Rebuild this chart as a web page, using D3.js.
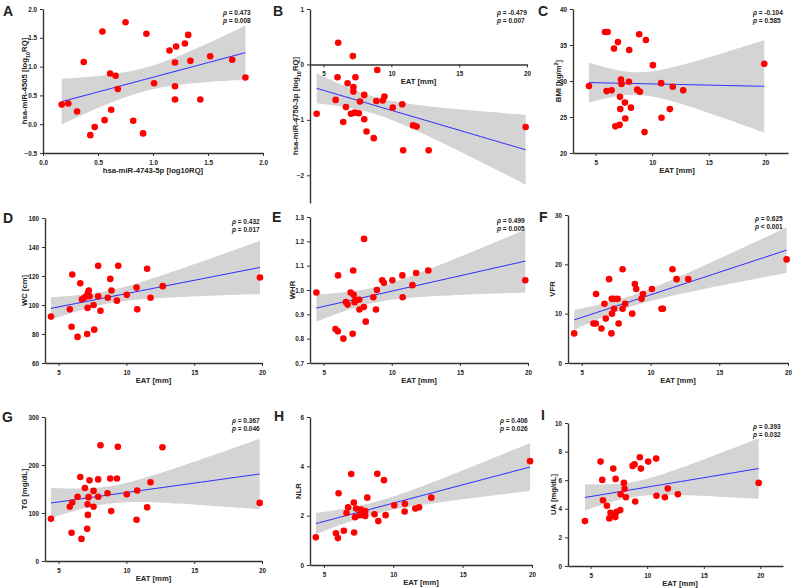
<!DOCTYPE html>
<html lang="en">
<head>
<meta charset="UTF-8">
<title>EAT correlations</title>
<script src="https://cdn.jsdelivr.net/npm/d3@7"></script>
<style>
    body { margin: 0; background: #fff; }
    svg text { font-family: "Liberation Sans", Arial, sans-serif; font-weight: bold; fill: #222; }
</style>
</head>
<body>
<svg id="chart" width="794" height="588" viewBox="0 0 794 588"></svg>
<script>
// values, one x/y pair of arrays per panel
const aX = [0.17, 0.23, 0.31, 0.37, 0.43, 0.47, 0.54, 0.56, 0.61, 0.62, 0.66, 0.68, 0.75, 0.82, 0.91, 0.94, 1.01, 1.15, 1.2, 1.2, 1.2, 1.21, 1.29, 1.32, 1.34, 1.43, 1.52, 1.72, 1.84];
const aY = [0.34, 0.36, 0.22, 1.08, -0.19, -0.05, 1.61, 0.07, 0.88, 0.25, 0.84, 0.61, 1.77, 0.06, -0.16, 1.57, 0.71, 1.28, 1.07, 0.66, 0.43, 1.35, 1.4, 1.55, 1.1, 0.43, 1.18, 1.12, 0.81];

const bX = [4.49, 5.89, 6.03, 6.08, 6.45, 6.65, 6.77, 7.02, 7.16, 7.2, 7.2, 7.3, 7.35, 7.6, 7.68, 8.0, 8.0, 8.17, 8.7, 8.89, 8.96, 9.36, 9.49, 10.1, 10.8, 10.87, 11.6, 11.86, 12.75, 19.9];
const bY = [-0.89, -0.64, -0.23, 0.39, -1.04, -0.77, -0.34, -0.89, 0.15, -0.41, -0.49, -0.87, -0.23, -0.88, -0.67, -0.55, -0.99, -1.21, -1.33, -0.66, -0.1, -0.65, -0.58, -0.78, -0.72, -1.55, -1.1, -1.12, -1.55, -1.13];

const cX = [4.41, 5.82, 6.06, 5.97, 6.41, 6.62, 6.74, 6.97, 7.12, 7.15, 7.18, 7.24, 7.29, 7.59, 7.62, 7.94, 7.97, 8.12, 8.68, 8.85, 8.91, 9.32, 9.44, 10.06, 10.79, 10.82, 11.56, 11.82, 12.74, 19.9];
const cY = [29.3, 36.8, 36.8, 28.6, 28.7, 34.5, 23.7, 35.4, 23.9, 27.8, 26.1, 30.2, 29.6, 27.0, 24.8, 29.9, 34.3, 26.3, 28.8, 36.5, 28.5, 22.9, 35.7, 32.2, 29.7, 24.9, 26.1, 29.2, 28.7, 32.4];

const dX = [4.44, 5.83, 5.96, 6.01, 6.4, 6.6, 6.72, 6.89, 7.04, 7.14, 7.16, 7.23, 7.28, 7.11, 7.58, 7.63, 7.92, 7.92, 8.09, 8.63, 8.81, 8.9, 9.3, 9.4, 10.03, 10.75, 10.8, 11.53, 11.78, 12.68, 19.85];
const dY = [92, 97, 85, 121, 78, 115, 104, 105, 106, 98, 108, 110, 106, 80, 100, 83, 127, 106, 96, 105, 118, 110, 103, 127, 107, 112, 97, 125, 105, 113, 119];

const eX = [4.47, 5.87, 6.04, 6.06, 6.45, 6.64, 6.76, 6.98, 7.13, 7.17, 7.2, 7.27, 7.34, 7.61, 7.63, 7.95, 7.97, 8.09, 8.65, 8.84, 8.91, 9.3, 9.42, 10.05, 10.78, 10.8, 11.52, 11.79, 12.68, 19.8];
const eY = [0.99, 0.84, 0.83, 1.06, 0.8, 0.95, 0.94, 0.99, 0.82, 1.08, 0.98, 0.95, 0.96, 0.96, 0.92, 0.93, 1.21, 0.87, 0.97, 0.92, 1.0, 1.04, 1.03, 1.04, 1.06, 0.97, 1.02, 1.07, 1.08, 1.04];

const fX = [4.45, 5.85, 6.02, 6.04, 6.43, 6.65, 6.75, 6.99, 7.18, 7.2, 7.16, 7.32, 7.35, 7.61, 7.68, 7.97, 7.97, 8.16, 8.67, 8.86, 8.96, 9.35, 9.45, 10.1, 10.8, 10.9, 11.6, 11.9, 12.75, 19.9];
const fY = [6, 8, 8, 14, 7, 12, 9, 17, 13, 10, 6, 13, 11, 13, 8, 19, 11, 12, 10, 16, 15, 13, 14, 15, 11, 11, 19, 17, 17, 21];

const gX = [4.44, 5.83, 6.01, 5.96, 6.4, 6.6, 6.69, 6.94, 7.11, 7.14, 7.16, 7.21, 7.28, 7.58, 7.58, 7.92, 7.92, 8.09, 8.61, 8.81, 8.88, 9.3, 9.37, 10.03, 10.75, 10.8, 11.53, 11.78, 12.66, 19.83];
const gY = [88, 113, 122, 59, 134, 175, 46, 152, 67, 118, 96, 133, 168, 146, 113, 170, 134, 241, 141, 172, 104, 172, 238, 139, 86, 147, 112, 164, 237, 121];

const hX = [4.42, 5.87, 6.01, 6.06, 6.44, 6.63, 6.75, 6.97, 7.16, 7.18, 7.25, 7.33, 7.6, 7.67, 7.98, 7.98, 8.13, 8.65, 8.85, 8.92, 9.33, 9.45, 10.07, 10.82, 10.84, 11.59, 11.86, 12.74, 19.86];
const hY = [1.12, 1.29, 1.09, 2.91, 1.39, 2.11, 2.34, 3.69, 2.53, 1.32, 1.94, 2.29, 2.02, 2.25, 2.19, 1.99, 2.73, 2.06, 3.7, 1.78, 3.44, 2.02, 2.42, 2.17, 2.48, 2.29, 2.34, 2.73, 4.21];

const iX = [4.5, 5.88, 6.03, 6.09, 6.44, 6.65, 6.76, 7.0, 7.15, 7.18, 7.21, 7.29, 7.62, 7.65, 7.94, 8.0, 8.12, 8.71, 8.88, 8.94, 9.35, 9.44, 10.09, 10.79, 10.82, 11.56, 11.82, 12.71, 19.85];
const iY = [3.14, 7.3, 6.02, 4.6, 4.21, 3.33, 3.72, 6.81, 3.58, 3.42, 6.09, 3.79, 3.91, 5.02, 5.81, 5.4, 4.81, 7.0, 7.12, 4.51, 7.6, 6.81, 7.3, 7.51, 4.91, 4.81, 5.42, 5.02, 5.81];

// correlation text per panel (A..I)
const rhoText = ["0.473", "-0.479", "-0.104", "0.432", "0.499", "0.625", "0.367", "0.406", "0.393"];
const pText = ["= 0.008", "= 0.007", "= 0.585", "= 0.017", "= 0.005", "< 0.001", "= 0.046", "= 0.026", "= 0.032"];

const eatTicks = [5, 10, 15, 20];

// panel layout: box = [left, right, top, bottom]
const panels = [
    { id: "A", x: aX, y: aY, box: [43, 263, 9, 153], xDom: [0, 2], yDom: [-0.5, 2],
      xTicks: [0, 0.5, 1, 1.5, 2], yTicks: [-0.5, 0, 0.5, 1, 1.5, 2], xFmt: ".1f", yFmt: ".1f",
      xLabel: "hsa-miR-4743-5p [log10RQ]", yLabel: ["hsa-miR-4505 [log", "10", "RQ]"], yLabelX: 24, sub: true,
      statsX: 223, letter: [3, 16] },
    { id: "B", x: bX, y: bY, box: [310, 527, 9, 203], xDom: [4, 20], yDom: [-2.5, 1],
      xTicks: eatTicks, yTicks: [-2, -1, 0, 1], xFmt: "d", yFmt: "d",
      xLabel: "EAT [mm]", yLabel: ["hsa-miR-4750-3p [log", "10", "RQ]"], yLabelX: 295, sub: true, xAt: 0,
      statsX: 497, letter: [273, 16] },
    { id: "C", x: cX, y: cY, box: [573, 788, 9, 153], xDom: [3, 22], yDom: [20, 40],
      xTicks: eatTicks, yTicks: [20, 25, 30, 35, 40], xFmt: "d", yFmt: "d",
      xLabel: "EAT [mm]", yLabel: ["BMI [kg/m", "2", "]"], yLabelX: 558, sup: true, xLabelX: 677,
      statsX: 753, letter: [538, 16] },
    { id: "D", x: dX, y: dY, box: [45, 262, 218, 363], xDom: [4, 20], yDom: [60, 160],
      xTicks: eatTicks, yTicks: [60, 80, 100, 120, 140, 160], xFmt: "d", yFmt: "d",
      xLabel: "EAT [mm]", yLabel: ["WC [cm]"], yLabelX: 24,
      statsX: 232, letter: [3, 223] },
    { id: "E", x: eX, y: eY, box: [310, 528, 217, 363], xDom: [4, 20], yDom: [0.7, 1.3],
      xTicks: eatTicks, yTicks: [0.7, 0.8, 0.9, 1.0, 1.1, 1.2, 1.3], xFmt: "d", yFmt: ".1f",
      xLabel: "EAT [mm]", yLabel: ["WHR"], yLabelX: 292,
      statsX: 497, letter: [272, 222] },
    { id: "F", x: fX, y: fY, box: [568, 788, 215, 363], xDom: [4, 20], yDom: [0, 30],
      xTicks: eatTicks, yTicks: [0, 10, 20, 30], xFmt: "d", yFmt: "d",
      xLabel: "EAT [mm]", yLabel: ["VFR"], yLabelX: 552,
      statsX: 755, letter: [539, 222] },
    { id: "G", x: gX, y: gY, box: [45, 262, 417, 561], xDom: [4, 20], yDom: [0, 300],
      xTicks: eatTicks, yTicks: [0, 100, 200, 300], xFmt: "d", yFmt: "d",
      xLabel: "EAT [mm]", yLabel: ["TG [mg/dL]"], yLabelX: 24,
      statsX: 232, letter: [2, 422] },
    { id: "H", x: hX, y: hY, box: [310, 532, 417, 565], xDom: [4, 20], yDom: [0, 6],
      xTicks: eatTicks, yTicks: [0, 2, 4, 6], xFmt: "d", yFmt: "d",
      xLabel: "EAT [mm]", yLabel: ["NLR"], yLabelX: 298,
      statsX: 500, letter: [274, 421] },
    { id: "I", x: iX, y: iY, box: [568, 783, 423, 566], xDom: [3, 22], yDom: [0, 10],
      xTicks: eatTicks, yTicks: [0, 2, 4, 6, 8, 10], xFmt: "d", yFmt: "d",
      xLabel: "EAT [mm]", yLabel: ["UA [mg/dL]"], yLabelX: 553, xLabelX: 680,
      statsX: 753, letter: [541, 420] }
];

const svg = d3.select("#chart");

// least squares fit with 95% confidence band
function fitLine(xs, ys) {
    const n = xs.length;
    const mx = d3.mean(xs), my = d3.mean(ys);
    let sxx = 0, sxy = 0;
    xs.forEach((x, i) => { sxx += (x - mx) ** 2; sxy += (x - mx) * (ys[i] - my); });
    const b = sxy / sxx, a = my - b * mx;
    let sse = 0;
    xs.forEach((x, i) => { sse += (ys[i] - (a + b * x)) ** 2; });
    const s = Math.sqrt(sse / (n - 2));
    const t = 2.05;
    const [x0, x1] = d3.extent(xs);
    return d3.range(0, 61).map(k => {
        const x = x0 + (x1 - x0) * k / 60;
        const yh = a + b * x;
        const se = s * Math.sqrt(1 / n + (x - mx) ** 2 / sxx);
        return { x: x, y: yh, lo: yh - t * se, hi: yh + t * se };
    });
}

panels.forEach((p, idx) => {
    const [l, r, t, b] = p.box;
    const xs = d3.scaleLinear().domain(p.xDom).range([l, r]);
    const ys = d3.scaleLinear().domain(p.yDom).range([b, t]);
    const g = svg.append("g");

    // confidence band + line
    const fit = fitLine(p.x, p.y);
    g.append("path")
        .datum(fit)
        .attr("fill", "#d4d4d4")
        .attr("d", d3.area().x(d => xs(d.x)).y0(d => ys(d.lo)).y1(d => ys(d.hi)));
    g.append("path")
        .datum(fit)
        .attr("fill", "none")
        .attr("stroke", "#2a2aff")
        .attr("stroke-width", 1)
        .attr("d", d3.line().x(d => xs(d.x)).y(d => ys(d.y)));

    // points
    g.selectAll(".dot")
        .data(p.x.map((v, i) => [v, p.y[i]]))
        .enter().append("circle")
        .attr("cx", d => xs(d[0]))
        .attr("cy", d => ys(d[1]))
        .attr("r", 3.3)
        .attr("fill", "#ff0000");

    // axes
    const xAxisY = p.xAt !== undefined ? ys(p.xAt) : b;
    const xAx = g.append("g")
        .attr("transform", `translate(0,${xAxisY})`)
        .call(d3.axisBottom(xs).tickValues(p.xTicks).tickFormat(d3.format(p.xFmt)).tickSize(3).tickSizeOuter(0));
    const yAx = g.append("g")
        .attr("transform", `translate(${l},0)`)
        .call(d3.axisLeft(ys).tickValues(p.yTicks).tickFormat(d3.format(p.yFmt)).tickSize(3).tickSizeOuter(0));
    [xAx, yAx].forEach(ax => {
        ax.select(".domain").attr("stroke", "#333").attr("stroke-width", 1.4);
        ax.selectAll(".tick line").attr("stroke", "#333").attr("stroke-width", 1);
        ax.selectAll("text").attr("font-size", 6.3).attr("fill", "#222")
            .attr("font-family", "Liberation Sans, Arial, sans-serif");
    });
    xAx.selectAll("text").attr("dy", "0.9em");

    // axis titles
    g.append("text")
        .attr("x", p.xLabelX || (l + r) / 2)
        .attr("y", xAxisY + 20)
        .attr("text-anchor", "middle")
        .attr("font-size", 7.7)
        .text(p.xLabel);

    const yl = g.append("text")
        .attr("transform", `translate(${p.yLabelX},${(t + b) / 2}) rotate(-90)`)
        .attr("text-anchor", "middle")
        .attr("dy", "0.35em")
        .attr("font-size", 7.7);
    yl.append("tspan").text(p.yLabel[0]);
    if (p.yLabel.length > 1) {
        yl.append("tspan").attr("font-size", 5.5)
            .attr("baseline-shift", p.sup ? "super" : "sub").text(p.yLabel[1]);
        yl.append("tspan").text(p.yLabel[2]);
    }

    // panel letter
    svg.append("text")
        .attr("x", p.letter[0])
        .attr("y", p.letter[1])
        .attr("font-size", 14)
        .text(p.id);

    // stats
    const st = g.append("text").attr("x", p.statsX).attr("y", t + 6).attr("font-size", 6.5);
    st.append("tspan").attr("font-style", "italic").text("ρ");
    st.append("tspan").text(" = " + rhoText[idx]);
    const sp = g.append("text").attr("x", p.statsX).attr("y", t + 14).attr("font-size", 6.5);
    sp.append("tspan").attr("font-style", "italic").text("p");
    sp.append("tspan").text(" " + pText[idx]);
});
</script>
</body>
</html>
